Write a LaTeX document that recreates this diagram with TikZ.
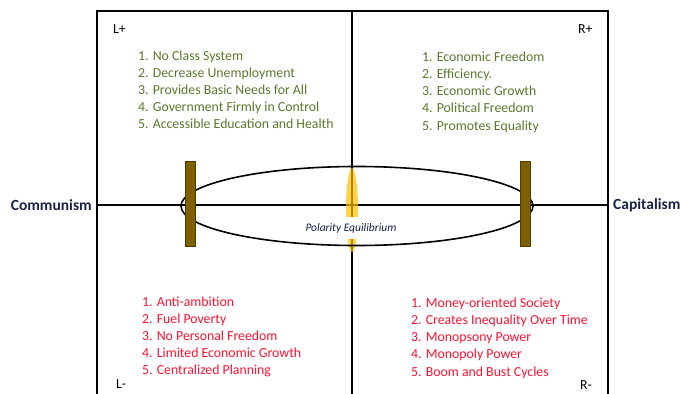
\documentclass[tikz,border=0pt]{standalone}
\usepackage{fontspec}
\setmainfont{Carlito}
\usetikzlibrary{positioning,shapes.geometric}
\definecolor{pros}{RGB}{90,120,45}
\definecolor{cons}{RGB}{250,20,50}
\definecolor{ink}{RGB}{25,35,70}
\definecolor{pole}{RGB}{127,96,0}
\definecolor{balance}{RGB}{255,192,0}
\tikzset{axis/.style={line width=1.6pt}}
\tikzset{quad/.style={font=\fontsize{13.8}{16}\selectfont,anchor=base west,inner sep=0pt}}
\tikzset{good/.style={quad,text=pros}}
\tikzset{bad/.style={quad,text=cons}}
\tikzset{corner/.style={quad,text=black}}
\tikzset{side/.style={font=\bfseries\fontsize{15.5}{18}\selectfont,text=ink,inner sep=0pt}}
\tikzset{pillar/.style={cylinder,shape border rotate=90,aspect=0.35,minimum width=10pt,minimum height=85pt,inner sep=0pt,draw=pole!60!black,line width=0.5pt,cylinder uses custom fill,cylinder body fill=pole,cylinder end fill=pole!55}}

\begin{document}
\begin{tikzpicture}[x=1pt,y=-1pt]
	\useasboundingbox (0,0) rectangle (681,394);

	%% Frame and axes
	\coordinate (sw) at (97,400);
	\coordinate (nw) at (97,11);
	\coordinate (ne) at (608,11);
	\coordinate (se) at (608,400);
	\coordinate (top) at (352,11);
	\coordinate (bottom) at (352,400);
	\coordinate (west) at (97,205);
	\coordinate (east) at (608,205);
	\draw[axis] (sw) -- (nw) -- (ne) -- (se);
	\draw[axis] (top) -- (bottom);
	\draw[axis] (west) -- (east);
	%%

	\node[side,left=5pt of west] (comm) {Communism};
	\node[side,right=5pt of east] (capi) {Capitalism};

	%% Equilibrium
	\node[ellipse,fill=balance,fill opacity=0.7,minimum width=12pt,minimum height=84pt,inner sep=0pt] (lens) at (352,210) {};
	\node[ellipse,draw,line width=1.6pt,minimum width=352pt,minimum height=79pt] (orbit) at (357,206) {};
	\node[pillar] (lpole) at (190,204) {};
	\node[pillar] (rpole) at (525,204) {};
	\node[fill=white,inner sep=1pt,minimum height=22pt,text=ink,font=\itshape\fontsize{11.5}{13}\selectfont] (eq) at (351,228) {Polarity Equilibrium};

	%% Quadrants
	\node[corner] (lplus) at (113,33) {L+};
	\node[corner] (rplus) at (578,33) {R+};
	\node[corner] (lminus) at (116,388) {L-};
	\node[corner] (rminus) at (580,389) {R-};

	\foreach \t [count=\i] in {No Class System,Decrease Unemployment,Provides Basic Needs for All,Government Firmly in Control,Accessible Education and Health}
		\node[good] (lg\i) at (138,{60+17*(\i-1)}) {\i. \t};
	\foreach \t [count=\i] in {Economic Freedom,Efficiency.,Economic Growth,Political Freedom,Promotes Equality}
		\node[good] (rg\i) at (422,{61+17.25*(\i-1)}) {\i. \t};
	\foreach \t [count=\i] in {Anti-ambition,Fuel Poverty,No Personal Freedom,Limited Economic Growth,Centralized Planning}
		\node[bad] (lb\i) at (142,{306+17*(\i-1)}) {\i. \t};
	\foreach \t [count=\i] in {Money-oriented Society,Creates Inequality Over Time,Monopsony Power,Monopoly Power,Boom and Bust Cycles}
		\node[bad] (rb\i) at (411,{307+17.25*(\i-1)}) {\i. \t};

\end{tikzpicture}
\end{document}
